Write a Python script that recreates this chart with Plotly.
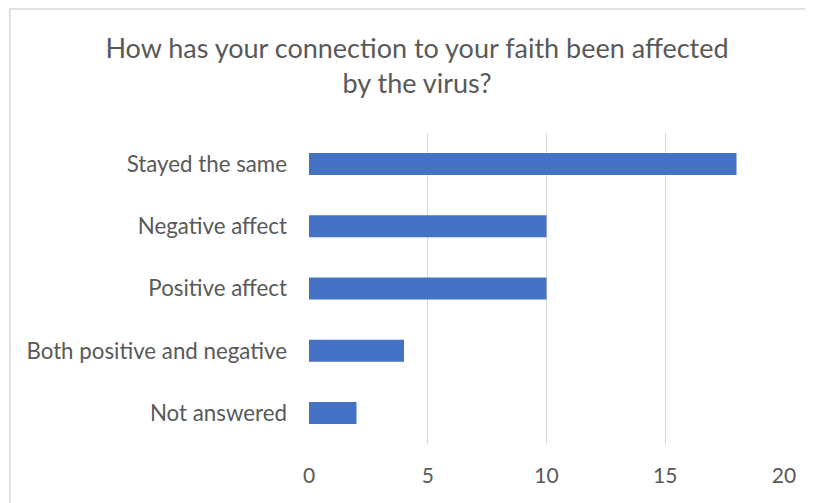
import plotly.graph_objects as go

categories = ["Stayed the same", "Negative affect", "Positive affect",
              "Both positive and negative", "Not answered"]
counts = [18, 10, 10, 4, 2]
x_ticks = [0, 5, 10, 15, 20]
title_text = "How has your connection to your faith been affected<br>by the virus?"

W, H = 813, 503
L, R, T, B = 300.5, 37, 125, 67

fig = go.Figure(go.Bar(
    x=counts, y=categories, orientation="h",
    marker=dict(color="#4472C4", line=dict(width=0)),
    width=0.354,
    hoverinfo="x+y",
))

pw = W - L - R
ph = H - T - B

fig.update_layout(
    width=W, height=H,
    margin=dict(l=L, r=R, t=T, b=B, pad=0),
    paper_bgcolor="white", plot_bgcolor="white",
    showlegend=False,
    font=dict(family="Lato", color="#595959"),
    title=dict(text=title_text, x=409 / W, xref="container", xanchor="center",
               y=1 - 50 / H, yref="container", yanchor="top",
               font=dict(family="Lato", size=27, color="#595959")),
    xaxis=dict(range=[0, 20], tickvals=x_ticks, showgrid=True,
               gridcolor="#d9d9d9", gridwidth=1.3, zeroline=False,
               showline=False, ticks="", ticklabelstandoff=17,
               tickfont=dict(size=21, color="#595959"), fixedrange=True),
    yaxis=dict(autorange="reversed", showgrid=False, zeroline=False,
               showline=False, ticks="", ticklabelstandoff=21,
               tickfont=dict(size=22.3, color="#595959"), fixedrange=True),
    shapes=[dict(type="rect", xref="paper", yref="paper",
                 x0=(1 - L) / pw, x1=(W + 20 - L) / pw,
                 y0=-(B + 20) / ph, y1=1 + (T - 1) / ph,
                 line=dict(color="#d9d9d9", width=1.5), layer="below")],
)

fig.write_html("out.html")
